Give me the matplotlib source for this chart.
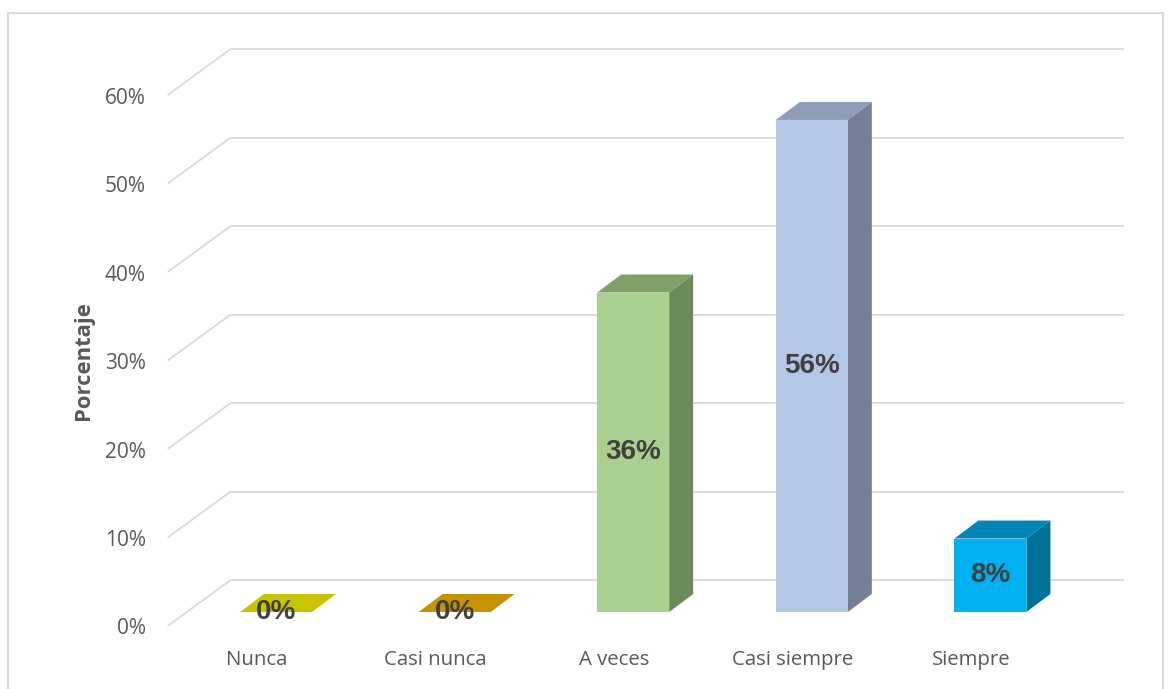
import matplotlib
matplotlib.use("Agg")
import matplotlib.pyplot as plt
from matplotlib.patches import Polygon, Rectangle

# survey answers (percent of respondents)
categories = ["Nunca", "Casi nunca", "A veces", "Casi siempre", "Siempre"]
values = [0.0, 0.0, 36.1, 55.6, 8.3]
y_ticks = [0, 10, 20, 30, 40, 50, 60]

front_colors = ["#C8C400", "#C59200", "#A9D08E", "#B4C7E7", "#00B0F0"]
top_colors = ["#C8C400", "#C59200", "#7FA067", "#8D9DB8", "#0086B6"]
side_colors = ["#C8C400", "#C59200", "#6B8A59", "#737F92", "#00729A"]

W, H = 1168, 689
fig = plt.figure(figsize=(W / 100, H / 100), dpi=100)
ax = fig.add_axes([0, 0, 1, 1])

# front plane of the bars: category index on x, percent on y
px_x0, px_step = 276.0, 178.6
px_y0, px_pct = 612.0, 8.85
ax.set_xlim(-px_x0 / px_step, (W - px_x0) / px_step)
ax.set_ylim(-(H - px_y0) / px_pct, px_y0 / px_pct)
ax.axis("off")

# depth offsets (category units / percent units)
bar_w = 72 / px_step
bar_dx, bar_dy = 24 / px_step, 18 / px_pct
back_dx, back_dy = 44 / px_step, 32 / px_pct
front_dx, front_dy = -19 / px_step, -14 / px_pct

grid_c = "#D9D9D9"
x_left, x_right = -0.5, 4.5
for v in y_ticks:
    ax.plot([x_left + front_dx, x_left + back_dx], [v + front_dy, v + back_dy],
            color=grid_c, lw=1.3, solid_capstyle="butt", zorder=1)
    ax.plot([x_left + back_dx, x_right + back_dx], [v + back_dy, v + back_dy],
            color=grid_c, lw=1.3, solid_capstyle="butt", zorder=1)
    ax.text(x_left + front_dx - 22 / px_step, v + front_dy - 3 / px_pct, f"{v}%",
            ha="right", va="center", fontsize=15, color="#595959",
            family="Open Sans")

for i, v in enumerate(values):
    l, r = i - bar_w / 2, i + bar_w / 2
    side = [(r, 0), (r + bar_dx, bar_dy), (r + bar_dx, v + bar_dy), (r, v)]
    top = [(l, v), (r, v), (r + bar_dx, v + bar_dy), (l + bar_dx, v + bar_dy)]
    if v > 0:
        ax.add_patch(Polygon(side, closed=True, fc=side_colors[i], ec="none", zorder=3))
        ax.add_patch(Rectangle((l, 0), bar_w, v, fc=front_colors[i], ec="none", zorder=3))
    ax.add_patch(Polygon(top, closed=True, fc=top_colors[i], ec="none", zorder=3))
    ax.text(i, v / 2, f"{v:.0f}%", ha="center", va="center", fontsize=20,
            fontweight="bold", color="#404040", family="Liberation Sans", zorder=4)
    ax.text(i + front_dx, -5.42, categories[i], ha="center", va="center",
            fontsize=14.7, color="#595959", family="Open Sans")

ax.text((83 - px_x0) / px_step, (px_y0 - 361) / px_pct, "Porcentaje", rotation=90,
        ha="center", va="center", fontsize=15.8, fontweight="bold",
        color="#595959", family="Open Sans")

# chart frame
fig.patches.append(Rectangle((8 / W, -0.05), (1163 - 8) / W, (H - 13) / H + 0.05,
                             transform=fig.transFigure, fill=False,
                             ec="#D9D9D9", lw=1.5))

fig.savefig("out.png", dpi=100)
